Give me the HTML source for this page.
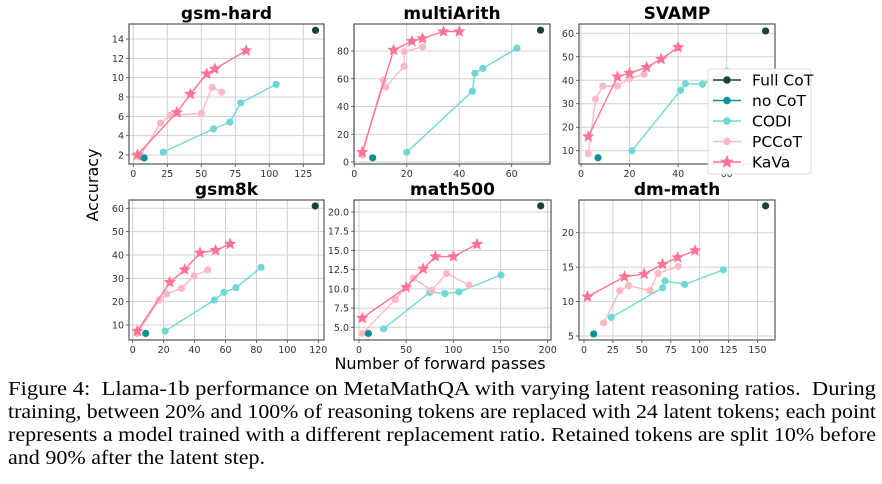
<!DOCTYPE html>
<html><head><meta charset="utf-8">
<style>
body{margin:0;background:#fff;width:882px;height:484px;overflow:hidden;position:relative}
svg{position:absolute;left:0;top:0}
.cap{position:absolute;left:8px;font-family:"Liberation Serif",serif;font-size:20.5px;line-height:23px;color:#000;white-space:nowrap;transform-origin:0 0;display:inline-block}
</style></head><body>
<svg id="fig" width="882" height="380" font-family="DejaVu Sans, Liberation Sans, sans-serif"></svg>
<div class="cap fit" style="top:378px">Figure 4:&nbsp; Llama-1b performance on MetaMathQA with varying latent reasoning ratios.&nbsp; During</div>
<div class="cap fit" style="top:401px">training, between 20% and 100% of reasoning tokens are replaced with 24 latent tokens; each point</div>
<div class="cap fit" style="top:424px">represents a model trained with a different replacement ratio. Retained tokens are split 10% before</div>
<div class="cap" id="last" style="top:447px">and 90% after the latent step.</div>
<script>
// ---- data ----
const panelNames = ["gsm-hard","multiArith","SVAMP","gsm8k","math500","dm-math"];
const seriesNames = ["Full CoT","no CoT","CODI","PCCoT","KaVa"];
const kavaX = [[3,32,42,54,60,83],[3,15,22,26,34,40],[3,15,20,27,33,40],[3,24,33.6,43.5,53.6,63],[3.5,50,68,81,100,125],[3,35,52,68,81,96]];
const kavaY = [[2,6.4,8.3,10.4,10.9,12.8],[7,80.7,87,89,94,94],[16,41.5,43,45.5,49,54],[7.4,28.3,33.7,40.9,42,44.7],[6.2,10.2,12.6,14.2,14.2,15.8],[10.7,13.6,14,15.4,16.4,17.4]];
const pccotX = [[4.5,20,27,50,58,65],[3,11,12,19,19,26],[3,6,9,15,20,26],[3,17,22,31.5,39.6,48.5],[3.5,38.5,57.6,77,93,116.6],[17,31,38.6,57,64,81.5]];
const pccotY = [[1.8,5.3,6.1,6.3,9.0,8.5],[5,59,54,69,79.5,83],[8.7,32,37.5,37.5,40.7,42.6],[6.4,20.7,23.3,25.7,31,33.6],[4.2,8.6,11.4,9.8,12,10.5],[6.9,11.6,12.3,11.6,14.1,15.1]];
const codiX = [[22,59,71,79,105],[20,45,46,49,62],[21,41,43,50,60],[21,52.8,59,66.8,83],[26,75,91,106,150.5],[23.6,68,70,87,120.5]];
const codiY = [[2.3,4.7,5.4,7.4,9.3],[7,51,64,67.5,82],[10,35.7,38.5,38.3,44],[7.4,20.7,24,26,34.7],[4.8,9.55,9.4,9.6,11.8],[7.7,12,13,12.5,14.6]];
const nocotX = [8,7,7,8.4,10,8.4];
const nocotY = [1.7,3,7,6.4,4.2,5.3];
const fullX = [134,71,76,118,192.6,157];
const fullY = [14.9,95,61,61,20.8,23.9];
const xTicks = [[0,25,50,75,100,125],[0,20,40,60],[0,20,40,60],[0,20,40,60,80,100,120],[0,50,100,150,200],[0,25,50,75,100,125,150]];
const yTicks = [[2,4,6,8,10,12,14],[0,20,40,60,80],[10,20,30,40,50,60],[10,20,30,40,50,60],[5,7.5,10,12.5,15,17.5,20],[5,10,15,20]];
const yTickLabels = [null,null,null,null,["5.0","7.5","10.0","12.5","15.0","17.5","20.0"],null];

// ---- layout ----
const boxes=[[129,24,324,164],[354,24,550,164],[579,24,775,164],[129,200,324,340],[354,200,551,340],[579,200,775,340]];
const xmaps=[[0,133.3,125,303.3],[0,354.3,60,511.7],[0,581,60,726.7],[0,132.7,120,318.3],[0,359,200,547.7],[0,584,150,757.5]];
const ymaps=[[2,155,14,39],[0,162,80,51],[10,150.7,60,33.3],[10,325,60,208.3],[5,327.3,20,212],[5,336,20,232.7]];
const COL={full:"#1a3f47",nocot:"#0b9196",codi:"#6fd8d6",pccot:"#ffb8c4",kava:"#ff7394"};
const NS="http://www.w3.org/2000/svg";
const svg=document.getElementById("fig");
function mk(tag,attrs,parent){const e=document.createElementNS(NS,tag);for(const k in attrs)e.setAttribute(k,attrs[k]);(parent||svg).appendChild(e);return e;}
function starPts(cx,cy,R){let r=R*0.45,p=[];for(let i=0;i<10;i++){const a=-Math.PI/2+i*Math.PI/5;const rr=i%2?r:R;p.push((cx+rr*Math.cos(a)).toFixed(1)+","+(cy+rr*Math.sin(a)).toFixed(1));}return p.join(" ");}

panelNames.forEach((name,i)=>{
  const [l,t,r,b]=boxes[i];
  const xm=xmaps[i], ym=ymaps[i];
  const sx=v=>xm[1]+(v-xm[0])*(xm[3]-xm[1])/(xm[2]-xm[0]);
  const sy=v=>ym[1]+(v-ym[0])*(ym[3]-ym[1])/(ym[2]-ym[0]);
  const g=mk("g",{});
  
  
  xTicks[i].forEach(v=>{
    const x=sx(v);
    const gl=mk("line",{x1:x,x2:x,y1:t,y2:b,stroke:"#d0d0d0","stroke-width":1},g);
    
    
    mk("line",{x1:x,x2:x,y1:b,y2:b+3,stroke:"#444","stroke-width":0.8},g);
    const tx=mk("text",{x:x,y:b+13,"font-size":9.5,"text-anchor":"middle",fill:"#333"},g);
    tx.textContent=v;
    
    
  });
  yTicks[i].forEach((v,k)=>{
    const y=sy(v);
    const gl=mk("line",{x1:l,x2:r,y1:y,y2:y,stroke:"#d0d0d0","stroke-width":1},g);
    
    
    mk("line",{x1:l-3,x2:l,y1:y,y2:y,stroke:"#444","stroke-width":0.8},g);
    const tx=mk("text",{x:l-5,y:y+3.5,"font-size":9.5,"text-anchor":"end",fill:"#333"},g);
    tx.textContent=yTickLabels[i]?yTickLabels[i][k]:v;
    
    
  });
  const frame=mk("rect",{x:l,y:t,width:r-l,height:b-t,fill:"none",stroke:"#555","stroke-width":1.2},g);
  
  
  const ti=mk("text",{x:(l+r)/2,y:t-5,"font-size":17,"font-weight":"bold","text-anchor":"middle",fill:"#000"},g);
  ti.textContent=name;
  
  

  function line(xs,ys,col,nm){
    const pl=mk("polyline",{points:xs.map((x,k)=>sx(x)+","+sy(ys[k])).join(" "),fill:"none",stroke:col,"stroke-width":1.4},g);
    
    
  }
  function dots(xs,ys,col,nm){
    xs.forEach((x,k)=>{
      const c=mk("circle",{cx:sx(x),cy:sy(ys[k]),r:3.6,fill:col},g);
      
      
    });
  }
  line(codiX[i],codiY[i],COL.codi,"codi"); dots(codiX[i],codiY[i],COL.codi,"codi");
  line(pccotX[i],pccotY[i],COL.pccot,"pccot"); dots(pccotX[i],pccotY[i],COL.pccot,"pccot");
  line(kavaX[i],kavaY[i],COL.kava,"kava");
  kavaX[i].forEach((x,k)=>{
    const s=mk("polygon",{points:starPts(sx(x),sy(kavaY[i][k]),6.5),fill:COL.kava},g);
    
    
  });
  dots([nocotX[i]],[nocotY[i]],COL.nocot,"no-cot");
  dots([fullX[i]],[fullY[i]],COL.full,"full-cot");
});

// axis labels
const yl=mk("text",{x:0,y:0,"font-size":16,"text-anchor":"middle",fill:"#000",transform:"translate(98,185) rotate(-90)"});
yl.textContent="Accuracy";


const xl=mk("text",{x:440,y:369,"font-size":16,"text-anchor":"middle",fill:"#000"});
xl.textContent="Number of forward passes";



// legend
const lg=mk("g",{});


mk("rect",{x:708,y:69,width:103,height:105,rx:3,fill:"#fff","fill-opacity":0.9,stroke:"#ddd"},lg);
const legCols=[COL.full,COL.nocot,COL.codi,COL.pccot,COL.kava];
seriesNames.forEach((n,k)=>{
  const y=80+k*20.5;
  const e=mk("g",{},lg);
  
  
  mk("line",{x1:713,x2:741,y1:y,y2:y,stroke:legCols[k],"stroke-width":1.6},e);
  if(k===4) mk("polygon",{points:starPts(727,y,7),fill:legCols[k]},e);
  else mk("circle",{cx:727,cy:y,r:3.8,fill:legCols[k]},e);
  const t=mk("text",{x:752,y:y+5.5,"font-size":15.5,fill:"#000"},e);
  t.textContent=n;
});

// fit caption lines to full width
let lastScale=1;
document.querySelectorAll('.fit').forEach(el=>{
  const w=el.getBoundingClientRect().width;
  lastScale=868/w;
  el.style.transform='scaleX('+lastScale+')';
});
document.getElementById('last').style.transform='scaleX('+lastScale+')';
</script>
</body></html>
